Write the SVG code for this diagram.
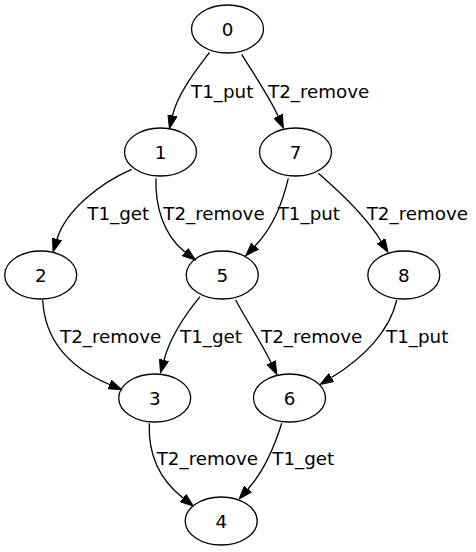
<svg xmlns="http://www.w3.org/2000/svg" width="476" height="552" viewBox="0 0 476 552">
<style>
.node ellipse{fill:none;stroke:#000;stroke-width:1.3}
.node text{font-family:"DejaVu Sans",sans-serif;font-size:18.3px;text-anchor:middle;fill:#000}
.edge path{fill:none;stroke:#000;stroke-width:1.3;marker-end:url(#arr)}
.lbl{font-family:"DejaVu Sans",sans-serif;font-size:18.3px;fill:#000}
</style>
<defs>
<marker id="arr" markerUnits="userSpaceOnUse" viewBox="0 0 14 10" markerWidth="14" markerHeight="10" refX="0" refY="5" orient="auto">
<path d="M0,0.3 L13.3,5 L0,9.7 Z" fill="#000" stroke="#000" stroke-width="1"/>
</marker>
</defs>
<rect width="476" height="552" fill="#fff"/>
<g id="edges" class="edge">
<path d="M209.5,52.5 C200,65 178,92 172.5,115.5"/>
<path d="M241.7,54.3 C255,76 270,98 278,116"/>
<path d="M131.7,169.3 C100,183 66,210 57,239"/>
<path d="M156,178.3 C155,205 163,235 185,252"/>
<path d="M288.3,178.3 C283,200 275,225 255,246"/>
<path d="M318.3,173.3 C340,192 365,215 381,241"/>
<path d="M42.7,300 C45,345 75,370 109.5,384.5"/>
<path d="M200,296.7 C185,315 170,338 164,360"/>
<path d="M235.7,300 C245,318 260,340 271,362.5"/>
<path d="M396.7,300 C390,330 365,357 331.5,377.5"/>
<path d="M149.3,423.3 C148,455 160,480 183,498"/>
<path d="M281.7,423.3 C275,445 265,470 248,489"/>
</g>
<g id="edge-labels" class="lbl">
<text x="191" y="97.5">T1_put</text>
<text x="268" y="97.5">T2_remove</text>
<text x="87.3" y="219.5">T1_get</text>
<text x="163.3" y="219.5">T2_remove</text>
<text x="277.7" y="219.5">T1_put</text>
<text x="366.7" y="219.5">T2_remove</text>
<text x="60" y="342.5">T2_remove</text>
<text x="180" y="342.5">T1_get</text>
<text x="261" y="342.5">T2_remove</text>
<text x="386" y="342.5">T1_put</text>
<text x="156.7" y="464.5">T2_remove</text>
<text x="272.3" y="464.5">T1_get</text>
</g>
<g id="node0" class="node"><ellipse cx="227.5" cy="29" rx="36" ry="24"/><text x="227.5" y="35.5">0</text></g>
<g id="node1" class="node"><ellipse cx="160.5" cy="152" rx="36" ry="24"/><text x="160.5" y="158.5">1</text></g>
<g id="node7" class="node"><ellipse cx="295.5" cy="152" rx="36" ry="24"/><text x="295.5" y="158.5">7</text></g>
<g id="node2" class="node"><ellipse cx="40.7" cy="275" rx="36" ry="24"/><text x="40.7" y="281.5">2</text></g>
<g id="node5" class="node"><ellipse cx="222.2" cy="275" rx="36" ry="24"/><text x="222.2" y="281.5">5</text></g>
<g id="node8" class="node"><ellipse cx="403.8" cy="275" rx="36" ry="24"/><text x="403.8" y="281.5">8</text></g>
<g id="node3" class="node"><ellipse cx="154.7" cy="398" rx="36" ry="24"/><text x="154.7" y="404.5">3</text></g>
<g id="node6" class="node"><ellipse cx="289.5" cy="398" rx="36" ry="24"/><text x="289.5" y="404.5">6</text></g>
<g id="node4" class="node"><ellipse cx="221.2" cy="521" rx="36" ry="24"/><text x="221.2" y="527.5">4</text></g>
</svg>
